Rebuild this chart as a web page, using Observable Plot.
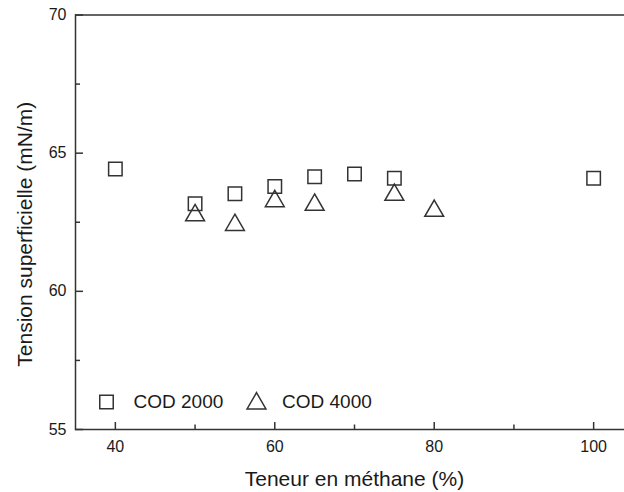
<!DOCTYPE html>
<html>
<head>
<meta charset="utf-8">
<script src="https://cdn.jsdelivr.net/npm/d3@7"></script>
<script src="https://cdn.jsdelivr.net/npm/@observablehq/plot@0.6"></script>
<style>
  html, body { margin: 0; padding: 0; background: #fff; overflow: hidden; width: 624px; height: 492px; }
  #chart svg { max-width: none !important; display: block; }
</style>
</head>
<body>
<div id="chart"></div>
<script>
// ---- data ----
const cod2000X = [40, 50, 55, 60, 65, 70, 75, 100];
const cod2000Y = [64.43, 63.17, 63.53, 63.79, 64.15, 64.25, 64.09, 64.09];
const cod4000X = [50, 55, 60, 65, 75, 80];
const cod4000Y = [62.75, 62.40, 63.26, 63.13, 63.49, 62.91];

const xMajorTicks = [40, 60, 80, 100];
const xMinorTicks = [50, 70, 90];
const yMajorTicks = [55, 60, 65, 70];
const yMinorTicks = [57.5, 62.5, 67.5];

const xTitle = "Teneur en méthane (%)";
const yTitle = "Tension superficielle (mN/m)";
const legendLabels = ["COD 2000", "COD 4000"];

const cod2000 = cod2000X.map((x, i) => ({x, y: cod2000Y[i]}));
const cod4000 = cod4000X.map((x, i) => ({x, y: cod4000Y[i]}));

const ink = "#333";
const textInk = "#1a1a1a";

const chart = Plot.plot({
  width: 634,
  height: 492,
  marginLeft: 75,
  marginRight: 1,
  marginTop: 14.5,
  marginBottom: 63,
  style: {fontFamily: "'Liberation Sans', Arial, sans-serif", background: "#fff", color: textInk},
  x: {domain: [35, 105], axis: null},
  y: {domain: [55, 70], axis: null},
  marks: [
    Plot.frame({stroke: ink, strokeWidth: 1.5}),
    // ticks (inward)
    Plot.axisX(xMajorTicks, {tickSize: -7, tickFormat: () => "", stroke: ink, strokeWidth: 1.5, label: null}),
    Plot.axisX(xMinorTicks, {tickSize: -4.5, tickFormat: () => "", stroke: ink, strokeWidth: 1.5, label: null}),
    Plot.axisY(yMajorTicks, {tickSize: -8, tickFormat: () => "", stroke: ink, strokeWidth: 1.5, label: null}),
    Plot.axisY(yMinorTicks, {tickSize: -5, tickFormat: () => "", stroke: ink, strokeWidth: 1.5, label: null}),
    // tick labels
    Plot.axisX(xMajorTicks, {tickSize: 0, tickPadding: 11, fontSize: 16, fill: textInk, label: null}),
    Plot.axisY(yMajorTicks, {tickSize: 0, tickPadding: 9, fontSize: 16, fill: textInk, label: null}),
    // data
    Plot.dot(cod2000, {x: "x", y: "y", symbol: "square", r: 7.6, stroke: ink, strokeWidth: 1.5, fill: "none"}),
    Plot.dot(cod4000, {x: "x", y: "y", symbol: "triangle", r: 7, stroke: ink, strokeWidth: 1.5, fill: "none"}),
    // legend
    Plot.dot([legendLabels[0]], {frameAnchor: "bottom-left", dx: 31, dy: -27.5, symbol: "square", r: 7.6, stroke: ink, strokeWidth: 1.5, fill: "none"}),
    Plot.text([legendLabels[0]], {frameAnchor: "bottom-left", text: d => d, dx: 58, dy: -27.3, textAnchor: "start", lineAnchor: "middle", fontSize: 19, fill: textInk}),
    Plot.dot([legendLabels[1]], {frameAnchor: "bottom-left", dx: 181, dy: -26, symbol: "triangle", r: 7, stroke: ink, strokeWidth: 1.5, fill: "none"}),
    Plot.text([legendLabels[1]], {frameAnchor: "bottom-left", text: d => d, dx: 206.5, dy: -27.3, textAnchor: "start", lineAnchor: "middle", fontSize: 19, fill: textInk}),
    // axis titles
    Plot.text([xTitle], {frameAnchor: "bottom", text: d => d, dy: 56, textAnchor: "middle", lineAnchor: "bottom", fontSize: 21, fill: textInk}),
    Plot.text([yTitle], {frameAnchor: "left", text: d => d, dx: -44, dy: 12, rotate: -90, textAnchor: "middle", lineAnchor: "bottom", fontSize: 21, fill: textInk})
  ]
});
chart.style.maxWidth = "none";
document.getElementById("chart").appendChild(chart);
</script>
</body>
</html>
